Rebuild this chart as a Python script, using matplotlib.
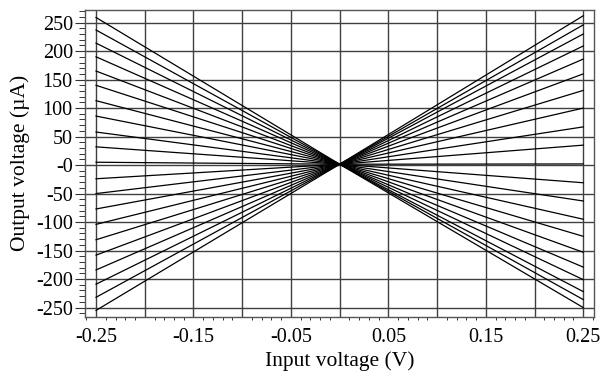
import matplotlib
matplotlib.use("Agg")
import matplotlib.pyplot as plt
from matplotlib.ticker import FixedLocator, MultipleLocator

plt.rcParams["font.family"] = ["Liberation Serif", "DejaVu Serif"]

# Sweep: each curve is sampled at the two ends and at the common crossing.
x_pts = [-0.25, 0.0, 0.25]
crossing = 1.5
left_end = [259, 237, 214, 190, 165, 140, 113, 86, 58, 32, 5,
            -24, -50, -77, -104, -131, -158, -184, -209, -232, -255]
right_end = [-250, -236, -222, -201, -179, -153, -125, -95, -63, -31, 2,
             35, 67, 100, 131, 160, 186, 209, 230, 246, 262]

x_ticks = [-0.25, -0.2, -0.15, -0.1, -0.05, 0.0, 0.05, 0.1, 0.15, 0.2, 0.25]
x_labels = ["-0.25", "", "-0.15", "", "-0.05", "", "0.05", "", "0.15", "", "0.25"]
y_ticks = [250, 200, 150, 100, 50, 0, -50, -100, -150, -200, -250]
y_labels = ["250", "200", "150", "100", "50", "-0", "-50", "-100", "-150", "-200", "-250"]

fig = plt.figure(figsize=(6.03, 3.73), dpi=100)
ax = fig.add_axes([0.1415, 0.151, 0.8435, 0.822])

for yl, yr in zip(left_end, right_end):
    ax.plot(x_pts, [yl, crossing, yr], color="black", lw=0.9, zorder=3)

ax.set_xlim(-0.261, 0.261)
ax.set_ylim(-266, 272)

ax.xaxis.set_major_locator(FixedLocator(x_ticks))
ax.set_xticklabels(x_labels)
ax.xaxis.set_minor_locator(MultipleLocator(0.01))
ax.yaxis.set_major_locator(FixedLocator(y_ticks))
ax.set_yticklabels(y_labels)
ax.yaxis.set_minor_locator(MultipleLocator(10))

ax.grid(True, which="major", color="#404040", lw=1.0, zorder=1)
ax.tick_params(axis="both", which="major", labelsize=14.5, direction="out",
               color="#333333", width=0.8)
ax.tick_params(axis="y", which="major", length=7, pad=2)
ax.tick_params(axis="x", which="major", length=0, pad=8)
ax.tick_params(axis="y", which="minor", length=4, width=0.7, color="#333333")
ax.tick_params(axis="x", which="minor", length=2.5, width=0.7, color="#333333")

for side in ax.spines.values():
    side.set_color("#555555")
    side.set_linewidth(1.0)

ax.set_xlabel("Input voltage (V)", fontsize=15.5, labelpad=3)
ax.set_ylabel("Output voltage (\u00b5A)", fontsize=15.5, labelpad=4)

fig.savefig("out.png", dpi=100, facecolor="white")
